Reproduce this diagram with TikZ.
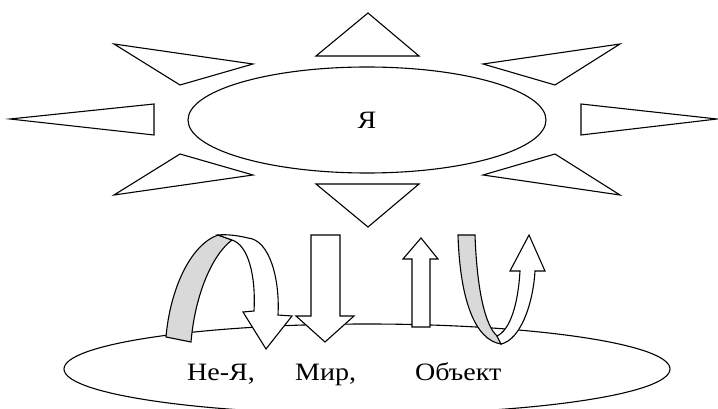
\documentclass[tikz,border=0pt]{standalone}
\usepackage{fontspec}
\setmainfont{Liberation Serif}
\newfontfamily\labelfont[FakeStretch=1.12]{Liberation Serif}
\usetikzlibrary{shapes.geometric}
\definecolor{underside}{gray}{0.85}
\tikzset{
  outline/.style={draw=black, line width=1.1pt, line join=miter},
  ray/.style={outline, fill=white},
  band/.style={outline, fill=underside},
  flatarrow/.style={outline, fill=white},
  oval/.style={ellipse, draw=black, line width=1.1pt, inner sep=0pt},
  word/.style={font=\labelfont\fontsize{25}{30}\selectfont, inner sep=0pt, anchor=base west}
}
\begin{document}
\begin{tikzpicture}[x=1pt, y=-1pt]
\useasboundingbox (0,0) rectangle (718,409);

% rays of the sun
\draw[ray] (114,44) -- (253,64) -- (180,85) -- cycle;
\draw[ray] (10,119) -- (154,104) -- (154,135) -- cycle;
\draw[ray] (114,195) -- (253,175) -- (180,154) -- cycle;
\draw[ray] (368,13) -- (316,56) -- (419,56) -- cycle;
\draw[ray] (316,184) -- (419,184) -- (368,227) -- cycle;
\draw[ray] (483,64) -- (620,44) -- (555,85) -- cycle;
\draw[ray] (581,104) -- (717,119) -- (581,135) -- cycle;
\draw[ray] (483,175) -- (555,154) -- (620,195) -- cycle;

% the self
\node[oval, minimum width=358pt, minimum height=106pt,
      font=\labelfont\fontsize{25}{30}\selectfont] (self) at (367,120) {Я};

% the world
\node[oval, minimum width=606pt, minimum height=90pt] (world) at (367,369) {};

\node[word] (neya) at (187,380) {Не-Я,};
\node[word] (mir) at (295,380) {Мир,};
\node[word] (obj) at (415,380) {Объект};

% looping ribbon on the left: underside, then the face turning down
\draw[band] (166,337) .. controls (170,290) and (190,245) .. (218,235)
  -- (232,240) .. controls (212,255) and (195,295) .. (191,342) -- cycle;
\draw[flatarrow] (218,235) .. controls (228,234) and (240,236) .. (248,238)
  .. controls (270,240) and (280,280) .. (278,315)
  -- (292,316) -- (266,349) -- (243,312) -- (254,311)
  .. controls (256,275) and (248,245) .. (232,240) -- cycle;

% straight arrows
\draw[flatarrow] (311,235) -- (340,235) -- (340,316) -- (354,316)
  -- (325,342) -- (296,316) -- (311,316) -- cycle;
\draw[flatarrow] (412,327) -- (412,259) -- (403,259) -- (421,238)
  -- (438,259) -- (430,259) -- (430,327) -- cycle;

% U-shaped ribbon on the right
\draw[band] (458,235) -- (475,235) .. controls (477,290) and (485,325) .. (497,336)
  -- (501,344) .. controls (475,340) and (460,300) .. (458,235) -- cycle;
\draw[flatarrow] (501,344) .. controls (520,340) and (533,305) .. (535,271)
  -- (545,271) -- (529,235) -- (510,271) -- (520,271)
  .. controls (518,305) and (510,330) .. (497,336) -- cycle;
\end{tikzpicture}
\end{document}
